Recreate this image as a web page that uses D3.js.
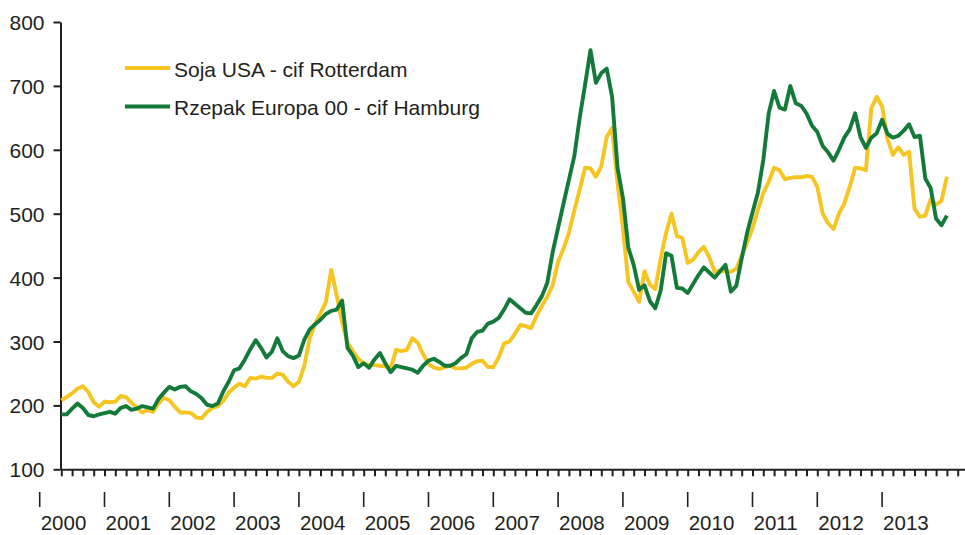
<!DOCTYPE html>
<html>
<head>
<meta charset="utf-8">
<script src="https://cdn.jsdelivr.net/npm/d3@7"></script>
<style>
  body { margin: 0; background: #fff; }
  svg text { font-family: 'Liberation Sans', Arial, sans-serif; font-size: 21px; fill: #231f20; }
  .axis path, .axis line { stroke: #231f20; stroke-width: 2; }
  .years text { font-size: 20.5px; }
</style>
</head>
<body>
<section></section>
<script>
// monthly prices, Jan 2000 .. Sep 2013
const years = ['2000', '2001', '2002', '2003', '2004', '2005', '2006',
  '2007', '2008', '2009', '2010', '2011', '2012', '2013'];

const soja = [
  208, 213, 219, 226, 230, 221, 205, 198, 206, 205, 206, 215,
  213, 204, 196, 189, 193, 190, 203, 212, 208, 198, 189, 189,
  188, 181, 180, 190, 196, 199, 207, 220, 228, 234, 230, 243,
  242, 245, 243, 243, 250, 248, 237, 230, 237, 262, 305, 328,
  344, 362, 412, 372, 330, 298, 285, 273, 266, 263, 263, 262,
  261, 258, 287, 285, 287, 305, 298, 280, 265, 259, 257, 260,
  262, 258, 258, 259, 265, 269, 270, 260, 260, 275, 297, 300,
  312, 326, 324, 321, 340, 356, 370, 388, 425, 445, 470, 505,
  538, 572, 571, 558, 574, 620, 634, 548, 478, 393, 378, 362,
  410, 389, 382, 430, 470, 500, 465, 462, 423, 428, 440, 448,
  432, 409, 411, 410, 409, 414, 434, 455, 477, 506, 532, 550,
  572, 568, 554, 556, 557, 557, 559, 558, 542, 500, 485, 476,
  500, 516, 542, 572, 571, 568, 665, 683, 668, 617, 592, 604,
  592, 597, 508, 495, 497, 523, 514, 520, 558
];

const rzepak = [
  186, 186, 195, 203, 196, 185, 183, 186, 188, 190, 187, 196,
  199, 193, 195, 199, 197, 195, 210, 220, 229, 225, 229, 230,
  222, 218, 211, 201, 199, 203, 222, 237, 255, 258, 272, 288,
  302, 290, 275, 284, 305, 285, 277, 274, 278, 303, 319, 327,
  334, 343, 348, 350, 364, 290, 278, 260, 266, 259, 272, 282,
  266, 252, 262, 260, 258, 256, 251, 262, 270, 273, 268, 262,
  262, 266, 274, 280, 305, 315, 317, 328, 331, 337, 350, 366,
  359, 352, 345, 344, 357, 371, 392, 440, 478, 516, 553, 590,
  650, 702, 756, 705, 720, 727, 683, 572, 525, 447, 420, 381,
  388, 363, 352, 380, 438, 434, 384, 383, 376, 390, 404, 416,
  408, 400, 410, 420, 378, 387, 430, 470, 502, 533, 584, 657,
  692, 666, 663, 700, 673, 669, 657, 638, 628, 606, 596, 583,
  600, 619, 632, 657, 620, 603, 619, 626, 647, 625, 619, 622,
  630, 640, 620, 622, 555, 540, 492, 482, 497
];

const yTicks = [100, 200, 300, 400, 500, 600, 700, 800];
const seriesNames = ['Soja USA - cif Rotterdam', 'Rzepak Europa 00 - cif Hamburg'];
const seriesColors = ['#f6c521', '#137a3a'];

const svg = d3.select('section')
  .append('svg')
  .attr('width', 965)
  .attr('height', 535);

const xscale = d3.scaleLinear().domain([0, 168]).range([61.3, 968.5]);
const yscale = d3.scaleLinear().domain([100, 800]).range([469.3, 22]);

const yaxis = d3.axisLeft(yscale)
  .tickValues(yTicks)
  .tickSizeInner(7)
  .tickSizeOuter(0)
  .tickPadding(9);
svg.append('g')
  .attr('class', 'axis')
  .attr('transform', 'translate(60.5, 0)')
  .call(yaxis)
  .selectAll('text').attr('dy', '0.36em');

// minor ticks every two months
const xaxis = d3.axisBottom(xscale)
  .tickValues(d3.range(0, 169, 2))
  .tickSizeInner(7)
  .tickSizeOuter(0)
  .tickFormat('');
svg.append('g')
  .attr('class', 'axis')
  .attr('transform', 'translate(0, 469.3)')
  .call(xaxis);

// year marks sit four months before each January
const yearG = svg.append('g').attr('class', 'years');
yearG.selectAll('line')
  .data(years)
  .join('line')
  .attr('x1', (d, k) => xscale(12 * k - 4))
  .attr('x2', (d, k) => xscale(12 * k - 4))
  .attr('y1', 492)
  .attr('y2', 507)
  .attr('stroke', '#231f20')
  .attr('stroke-width', 1.6);
yearG.selectAll('text')
  .data(years)
  .join('text')
  .attr('x', (d, k) => xscale(12 * k - 4) + 1)
  .attr('y', 530)
  .text(d => d);

const line = d3.line()
  .x((d, i) => xscale(i))
  .y(d => yscale(d));

[soja, rzepak].forEach((s, j) => {
  svg.append('path')
    .datum(s)
    .attr('fill', 'none')
    .attr('stroke', seriesColors[j])
    .attr('stroke-width', 3.9)
    .attr('stroke-linejoin', 'round')
    .attr('d', line);
});

const legend = svg.append('g')
  .selectAll('g')
  .data(seriesNames)
  .join('g')
  .attr('transform', (d, j) => 'translate(125,' + (68 + j * 38.5) + ')');
legend.append('line')
  .attr('x1', 0)
  .attr('x2', 45)
  .attr('stroke', (d, j) => seriesColors[j])
  .attr('stroke-width', 4);
legend.append('text')
  .attr('x', 49)
  .attr('y', 8.5)
  .text(d => d);
</script>
</body>
</html>
